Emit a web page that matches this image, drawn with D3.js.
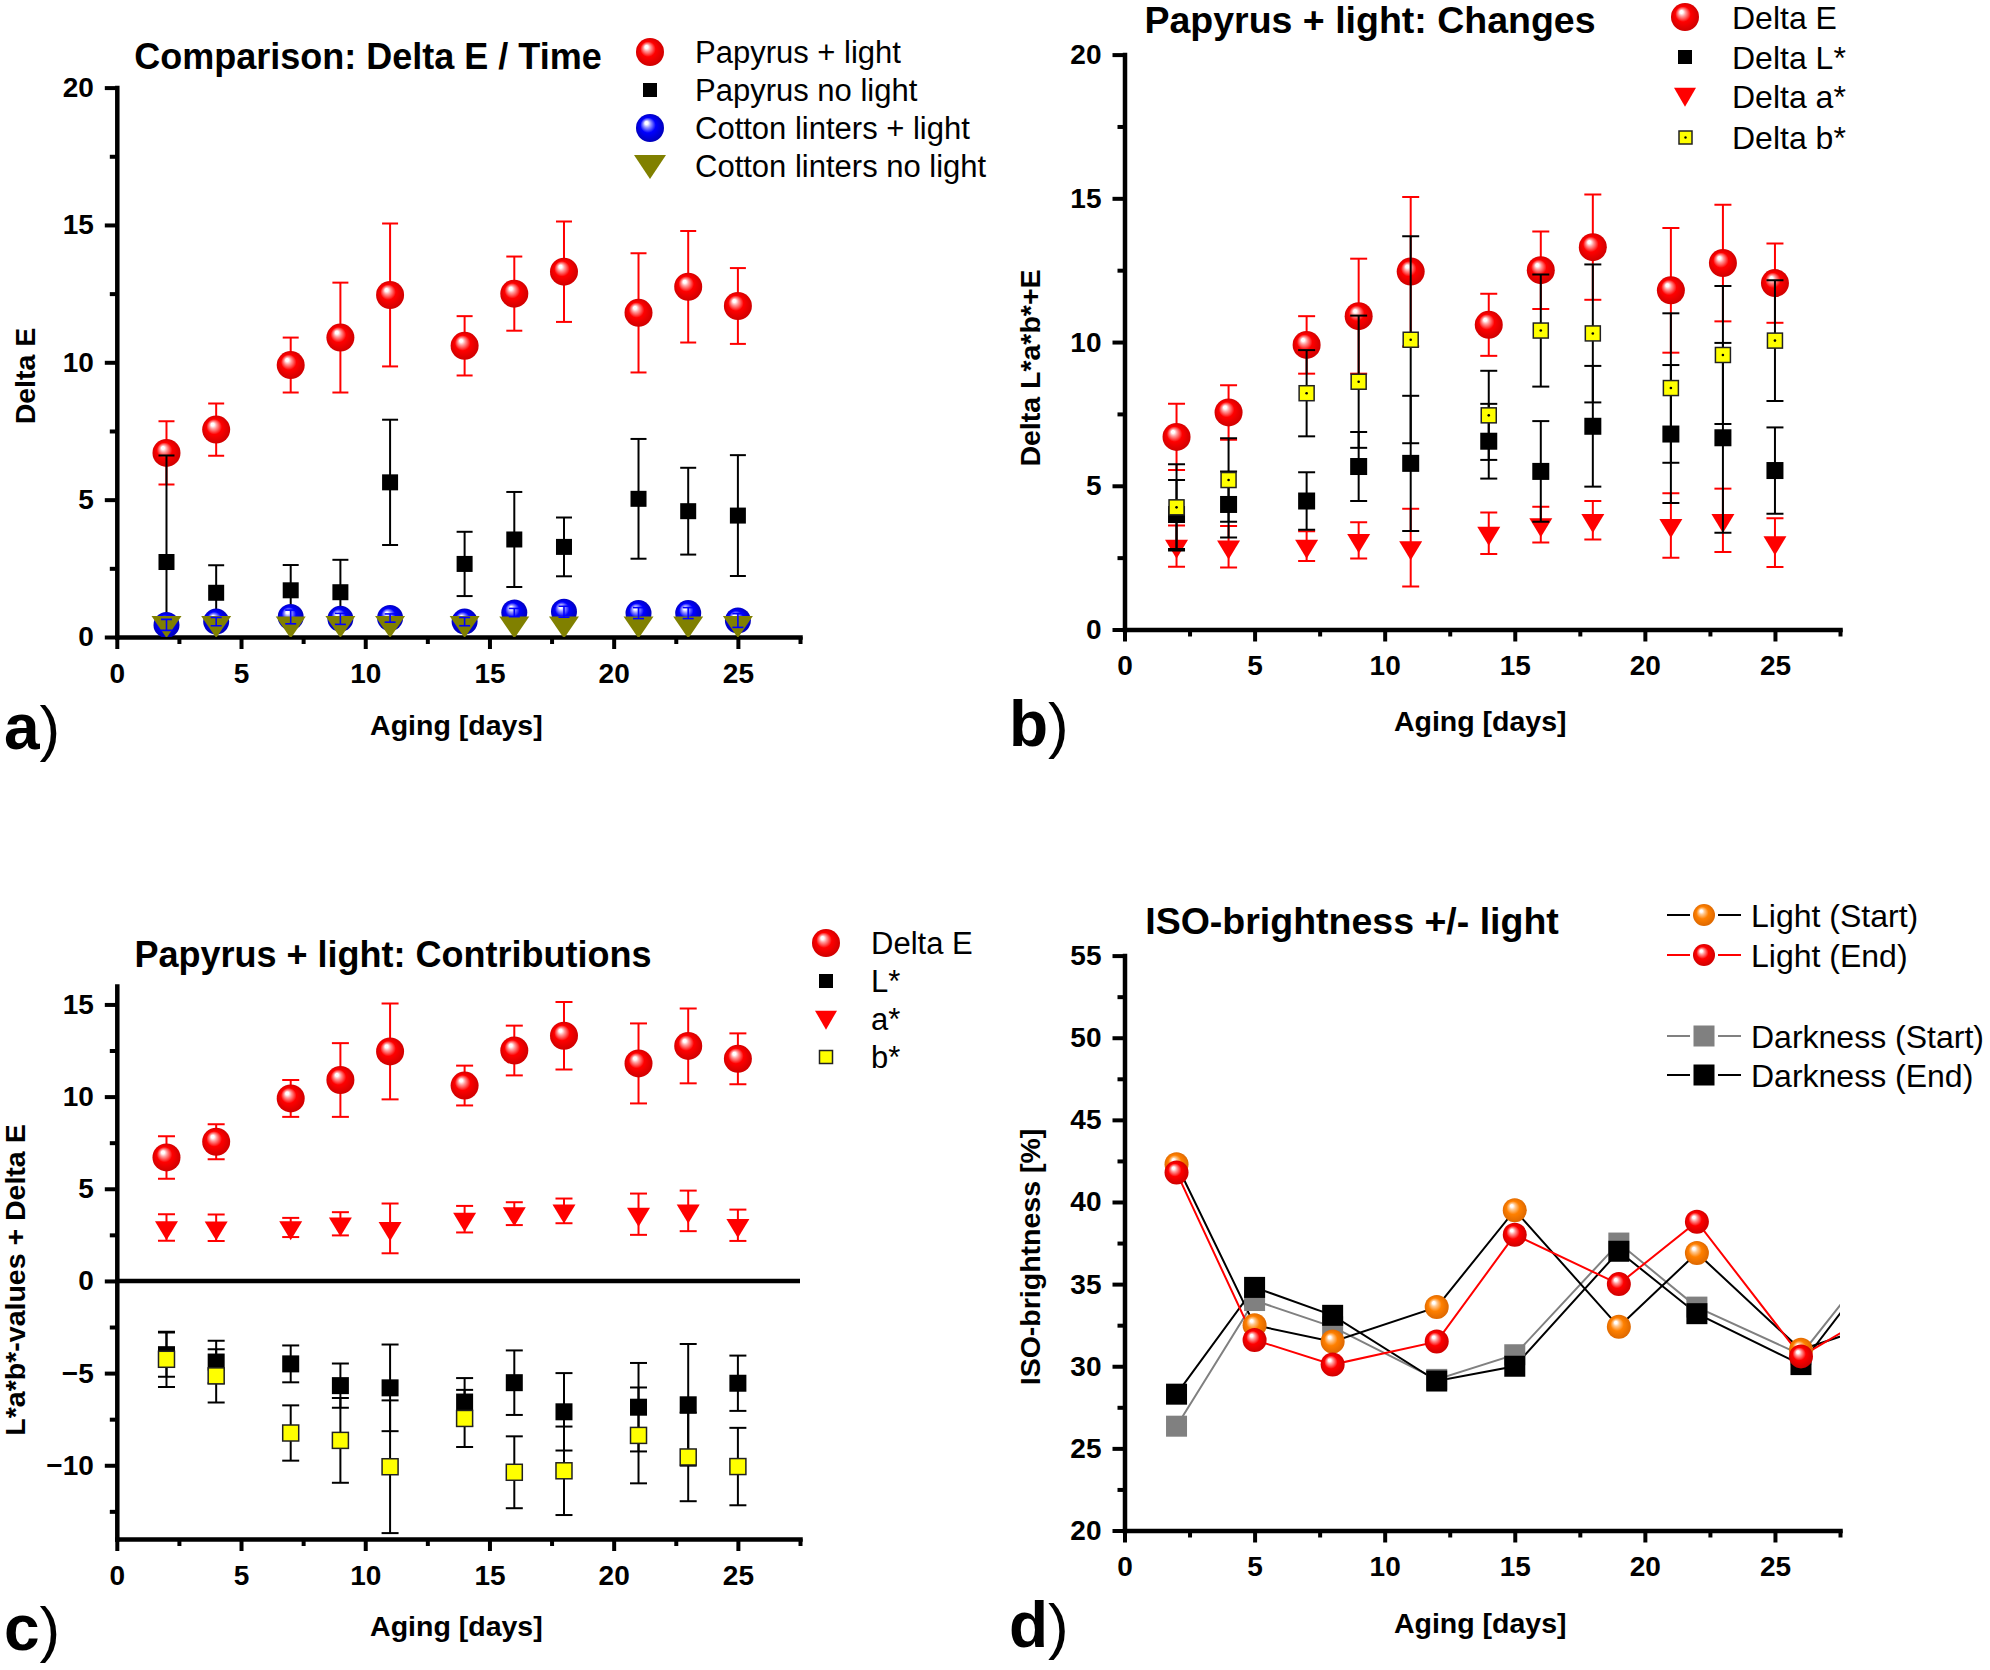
<!DOCTYPE html>
<html><head><meta charset="utf-8">
<script src="https://cdn.jsdelivr.net/npm/d3@7"></script>
<style>
body{margin:0;background:#fff}
svg{display:block}
text{font-family:"Liberation Sans",Arial,Helvetica,sans-serif;fill:#000}
</style>
</head><body>
<svg id="chart" width="1990" height="1670"></svg>
<script>
// ---------------- DATA ----------------
const days = [2, 4, 7, 9, 11, 14, 16, 18, 21, 23, 25];
const xTicks = [0, 5, 10, 15, 20, 25];
const xMinorTicks = [2.5, 7.5, 12.5, 17.5, 22.5, 27.5];

// Panel a
const papyrusLight    = [6.7, 7.55, 9.9, 10.9, 12.45, 10.6, 12.5, 13.3, 11.8, 12.75, 12.05];
const papyrusLightErr = [1.15, 0.95, 1.0, 2.0, 2.6, 1.08, 1.35, 1.83, 2.17, 2.03, 1.38];
const papyrusDark     = [2.73, 1.61, 1.7, 1.63, 5.63, 2.66, 3.55, 3.28, 5.03, 4.58, 4.42];
const papyrusDarkErr  = [3.88, 1.0, 0.92, 1.18, 2.28, 1.17, 1.73, 1.07, 2.18, 1.58, 2.2];
const cottonLight     = [0.44, 0.56, 0.73, 0.66, 0.69, 0.56, 0.89, 0.92, 0.87, 0.87, 0.6];
const cottonLightErr  = [0.2, 0.15, 0.25, 0.2, 0.15, 0.15, 0.15, 0.2, 0.2, 0.2, 0.25];
const cottonDark      = [0.5, 0.5, 0.48, 0.5, 0.5, 0.5, 0.48, 0.48, 0.48, 0.48, 0.5];
const aYTicks = [0, 5, 10, 15, 20];
const aYMinor = [2.5, 7.5, 12.5, 17.5];

// Panel b
const deltaE    = [6.7, 7.55, 9.9, 10.9, 12.45, 10.6, 12.5, 13.3, 11.8, 12.75, 12.05];
const deltaEErr = [1.15, 0.95, 1.0, 2.0, 2.6, 1.08, 1.35, 1.83, 2.17, 2.03, 1.38];
const deltaL    = [4.0, 4.35, 4.47, 5.67, 5.78, 6.55, 5.5, 7.07, 6.8, 6.67, 5.53];
const deltaLErr = [1.2, 1.15, 1.0, 1.2, 2.35, 1.3, 1.75, 2.1, 2.4, 3.3, 1.5];
const deltaA    = [2.9, 2.88, 2.9, 3.1, 2.85, 3.35, 3.65, 3.8, 3.62, 3.8, 3.02];
const deltaAErr = [0.72, 0.72, 0.52, 0.63, 1.35, 0.72, 0.62, 0.67, 1.12, 1.1, 0.85];
const deltaB    = [4.25, 5.2, 8.22, 8.62, 10.08, 7.45, 10.4, 10.3, 8.4, 9.55, 10.05];
const deltaBErr = [1.5, 1.45, 1.5, 2.3, 3.6, 1.55, 1.95, 2.4, 2.6, 2.4, 2.1];

// Panel c
const contribE    = [6.7, 7.55, 9.9, 10.9, 12.45, 10.6, 12.5, 13.3, 11.8, 12.75, 12.05];
const contribEErr = [1.15, 0.95, 1.0, 2.0, 2.6, 1.08, 1.35, 1.83, 2.17, 2.03, 1.38];
const contribL    = [-4.0, -4.4, -4.5, -5.68, -5.8, -6.57, -5.52, -7.1, -6.85, -6.72, -5.55];
const contribLErr = [1.2, 1.15, 1.0, 1.2, 2.35, 1.3, 1.75, 2.1, 2.4, 3.3, 1.5];
const contribA    = [2.9, 2.88, 2.9, 3.1, 2.85, 3.35, 3.65, 3.8, 3.62, 3.8, 3.02];
const contribAErr = [0.72, 0.72, 0.52, 0.63, 1.35, 0.72, 0.62, 0.67, 1.12, 1.1, 0.85];
const contribB    = [-4.25, -5.15, -8.25, -8.65, -10.08, -7.46, -10.38, -10.3, -8.38, -9.55, -10.07];
const contribBErr = [1.5, 1.45, 1.5, 2.3, 3.6, 1.55, 1.95, 2.4, 2.6, 2.4, 2.1];
const cYTicks = [-10, -5, 0, 5, 10, 15];
const cYMinor = [-12.5, -7.5, -2.5, 2.5, 7.5, 12.5];

// Panel d
const isoDays    = [2, 5, 8, 12, 15, 19, 22, 26, 29];
const lightStart = [42.3, 32.5, 31.5, 33.6, 39.5, 32.4, 36.9, 31.0, 32.6];
const lightEnd   = [41.8, 31.6, 30.1, 31.5, 38.0, 35.0, 38.8, 30.6, 33.4];
const darkStart  = [26.35, 34.0, 32.4, 29.2, 30.7, 37.5, 33.6, 30.7, 36.7];
const darkEnd    = [28.3, 34.8, 33.1, 29.1, 30.0, 37.0, 33.2, 30.1, 36.3];
const dYTicks = [20, 25, 30, 35, 40, 45, 50, 55];
const dYMinor = [22.5, 27.5, 32.5, 37.5, 42.5, 47.5, 52.5];

// ---------------- DRAWING ----------------
const svg = d3.select('#chart');
const defs = svg.append('defs');

function sphereGrad(id, light, base, dark) {
  const g = defs.append('radialGradient').attr('id', id)
    .attr('cx', '50%').attr('cy', '50%').attr('r', '55%')
    .attr('fx', '36%').attr('fy', '30%');
  [[0, '#ffffff'], [0.1, '#ffffff'], [0.24, light], [0.5, base], [1, dark]]
    .forEach(s => g.append('stop').attr('offset', s[0]).attr('stop-color', s[1]));
}
sphereGrad('gRed', '#ff9a9a', '#ff0000', '#c80000');
sphereGrad('gBlue', '#9a9aff', '#0000ff', '#0000b0');
sphereGrad('gOrange', '#ffc890', '#ff8000', '#d86400');

let clipId = 0;
function frame(o) {
  const x = d3.scaleLinear().domain([0, 27.5]).range([o.x0, o.x1]);
  const y = d3.scaleLinear().domain(o.yDom).range([o.yBot, o.yTop]);
  const g = svg.append('g');
  const axisStyle = s => {
    s.selectAll('.domain').attr('stroke', '#000').attr('stroke-width', 4.5).attr('stroke-linecap', 'square');
    s.selectAll('.tick line').attr('stroke', '#000').attr('stroke-width', 4);
    s.selectAll('.tick text').attr('font-size', 28).attr('font-weight', 'bold')
      .attr('font-family', '"Liberation Sans",Arial,sans-serif').attr('fill', '#000');
  };
  // minor ticks
  g.append('g').attr('transform', `translate(${o.x0},0)`)
    .call(d3.axisLeft(y).tickValues(o.yMinor).tickSize(7).tickFormat('').tickSizeOuter(0))
    .call(axisStyle).call(s => s.select('.domain').remove());
  g.append('g').attr('transform', `translate(0,${o.yBot})`)
    .call(d3.axisBottom(x).tickValues(xMinorTicks).tickSize(7).tickFormat('').tickSizeOuter(0))
    .call(axisStyle).call(s => s.select('.domain').remove());
  // major
  g.append('g').attr('transform', `translate(${o.x0},0)`)
    .call(d3.axisLeft(y).tickValues(o.yMajor).tickSize(12).tickPadding(11).tickSizeOuter(0))
    .call(axisStyle);
  g.append('g').attr('transform', `translate(0,${o.yBot})`)
    .call(d3.axisBottom(x).tickValues(xTicks).tickSize(12).tickPadding(14).tickSizeOuter(0))
    .call(axisStyle);
  // clip
  const id = 'clip' + (clipId++);
  defs.append('clipPath').attr('id', id).append('rect')
    .attr('x', o.x0).attr('y', o.yTop - 30).attr('width', o.x1 - o.x0).attr('height', o.yBot - o.yTop + 30);
  const plot = svg.append('g').attr('clip-path', `url(#${id})`);
  // title
  svg.append('text').attr('x', o.titleX).attr('y', o.titleY).attr('dy', '0.35em')
    .attr('text-anchor', 'middle').attr('font-size', o.titleSize).attr('font-weight', 'bold').text(o.title);
  // axis titles
  svg.append('text').attr('x', (o.x0 + o.x1) / 2 - 2).attr('y', o.xLabY).attr('dy', '0.35em')
    .attr('text-anchor', 'middle').attr('font-size', 28.5).attr('font-weight', 'bold').text('Aging [days]');
  svg.append('text').attr('transform', `translate(${o.yLabX},${o.yLabY}) rotate(-90)`).attr('dy', '0.35em')
    .attr('text-anchor', 'middle').attr('font-size', 28.5).attr('font-weight', 'bold').text(o.yLabel);
  // panel letter
  const lt = svg.append('text').attr('x', o.letX).attr('y', o.letY).attr('font-size', 64);
  lt.append('tspan').attr('font-weight', 'bold').text(o.letter);
  lt.append('tspan').attr('font-weight', 'normal').attr('font-size', 62).text(')');
  return {x, y, plot};
}

function rows(xs, ys, es) { return xs.map((d, i) => ({x: d, y: ys[i], e: es ? es[i] : 0})); }

function errorBars(g, data, x, y, color, cap, sw) {
  const eg = g.append('g').attr('stroke', color).attr('stroke-width', sw || 2);
  eg.selectAll('.v').data(data).join('line').attr('class', 'v')
    .attr('x1', d => x(d.x)).attr('x2', d => x(d.x))
    .attr('y1', d => y(d.y + d.e)).attr('y2', d => y(d.y - d.e));
  eg.selectAll('.t').data(data).join('line').attr('class', 't')
    .attr('x1', d => x(d.x) - cap / 2).attr('x2', d => x(d.x) + cap / 2)
    .attr('y1', d => y(d.y + d.e)).attr('y2', d => y(d.y + d.e));
  eg.selectAll('.b').data(data).join('line').attr('class', 'b')
    .attr('x1', d => x(d.x) - cap / 2).attr('x2', d => x(d.x) + cap / 2)
    .attr('y1', d => y(d.y - d.e)).attr('y2', d => y(d.y - d.e));
}
function spheres(g, data, x, y, r, grad) {
  g.append('g').selectAll('circle').data(data).join('circle')
    .attr('cx', d => x(d.x)).attr('cy', d => y(d.y)).attr('r', r).attr('fill', `url(#${grad})`);
}
function squares(g, data, x, y, s, fill, stroke, dot) {
  const gg = g.append('g');
  gg.selectAll('rect').data(data).join('rect')
    .attr('x', d => x(d.x) - s / 2).attr('y', d => y(d.y) - s / 2).attr('width', s).attr('height', s)
    .attr('fill', fill).attr('stroke', stroke || 'none').attr('stroke-width', stroke ? 1.5 : 0);
  if (dot) gg.selectAll('circle').data(data).join('circle')
    .attr('cx', d => x(d.x)).attr('cy', d => y(d.y)).attr('r', 1.3).attr('fill', '#000');
}
function triPath(cx, cy, w, h) {
  return `M${cx - w / 2},${cy - h / 3}L${cx + w / 2},${cy - h / 3}L${cx},${cy + 2 * h / 3}Z`;
}
function triangles(g, data, x, y, w, h, fill) {
  g.append('g').selectAll('path').data(data).join('path')
    .attr('d', d => triPath(x(d.x), y(d.y), w, h)).attr('fill', fill);
}
function legendText(x, y, t, size) {
  svg.append('text').attr('x', x).attr('y', y).attr('dy', '0.36em').attr('font-size', size).text(t);
}

// ---------- Panel a ----------
{
  const P = frame({x0: 116.8, x1: 800, yTop: 87.6, yBot: 637, yDom: [0, 20], yMajor: aYTicks, yMinor: aYMinor,
    title: 'Comparison: Delta E / Time', titleX: 368, titleY: 56, titleSize: 36,
    xLabY: 725, yLabel: 'Delta E', yLabX: 25, yLabY: 376, letter: 'a', letX: 4, letY: 749});
  const {x, y, plot} = P;
  errorBars(plot, rows(days, papyrusLight, papyrusLightErr), x, y, '#ff0000', 16, 2);
  spheres(plot, rows(days, papyrusLight), x, y, 14, 'gRed');
  errorBars(plot, rows(days, papyrusDark, papyrusDarkErr), x, y, '#000', 16, 2);
  squares(plot, rows(days, papyrusDark), x, y, 16, '#000');
  spheres(plot, rows(days, cottonLight), x, y, 13, 'gBlue');
  triangles(plot, rows(days, cottonDark), x, y, 30, 22, '#808000');
  errorBars(plot, rows(days, cottonLight, cottonLightErr), x, y, '#0000ff', 11, 1.6);
  // legend
  svg.append('circle').attr('cx', 650).attr('cy', 52).attr('r', 14).attr('fill', 'url(#gRed)');
  svg.append('rect').attr('x', 643).attr('y', 83).attr('width', 14).attr('height', 14).attr('fill', '#000');
  svg.append('circle').attr('cx', 650).attr('cy', 128).attr('r', 14).attr('fill', 'url(#gBlue)');
  svg.append('path').attr('d', triPath(650, 163, 32, 24)).attr('fill', '#808000');
  legendText(695, 52, 'Papyrus + light', 31);
  legendText(695, 90, 'Papyrus no light', 31);
  legendText(695, 128, 'Cotton linters + light', 31);
  legendText(695, 166, 'Cotton linters no light', 31);
}

// ---------- Panel b ----------
{
  const P = frame({x0: 1124.5, x1: 1840, yTop: 54.6, yBot: 629.5, yDom: [0, 20], yMajor: aYTicks, yMinor: aYMinor,
    title: 'Papyrus + light: Changes', titleX: 1370, titleY: 20, titleSize: 37.5,
    xLabY: 721, yLabel: 'Delta L*a*b*+E', yLabX: 1030, yLabY: 368, letter: 'b', letX: 1009, letY: 746});
  const {x, y, plot} = P;
  errorBars(plot, rows(days, deltaE, deltaEErr), x, y, '#ff0000', 17, 2);
  spheres(plot, rows(days, deltaE), x, y, 14, 'gRed');
  errorBars(plot, rows(days, deltaA, deltaAErr), x, y, '#ff0000', 17, 2);
  triangles(plot, rows(days, deltaA), x, y, 23, 19, '#ff0000');
  errorBars(plot, rows(days, deltaL, deltaLErr), x, y, '#000', 17, 2);
  squares(plot, rows(days, deltaL), x, y, 17, '#000');
  errorBars(plot, rows(days, deltaB, deltaBErr), x, y, '#000', 17, 2);
  squares(plot, rows(days, deltaB), x, y, 15, '#ffff00', '#222', true);
  // legend
  svg.append('circle').attr('cx', 1685).attr('cy', 17).attr('r', 14).attr('fill', 'url(#gRed)');
  svg.append('rect').attr('x', 1678).attr('y', 50).attr('width', 14).attr('height', 14).attr('fill', '#000');
  svg.append('path').attr('d', triPath(1685, 94, 22, 19)).attr('fill', '#ff0000');
  svg.append('rect').attr('x', 1679).attr('y', 131).attr('width', 13).attr('height', 13).attr('fill', '#ffff00').attr('stroke', '#222').attr('stroke-width', 1.5);
  svg.append('circle').attr('cx', 1685.5).attr('cy', 137.5).attr('r', 1.2).attr('fill', '#000');
  legendText(1732, 17, 'Delta E', 32);
  legendText(1732, 57, 'Delta L*', 32);
  legendText(1732, 96.5, 'Delta a*', 32);
  legendText(1732, 137, 'Delta b*', 32);
}

// ---------- Panel c ----------
{
  const P = frame({x0: 116.8, x1: 800, yTop: 986, yBot: 1539, yDom: [-14, 16], yMajor: cYTicks, yMinor: cYMinor,
    title: 'Papyrus + light: Contributions', titleX: 393, titleY: 954, titleSize: 36,
    xLabY: 1626, yLabel: 'L*a*b*-values + Delta E', yLabX: 15, yLabY: 1280, letter: 'c', letX: 4, letY: 1650});
  const {x, y, plot} = P;
  // zero line
  svg.append('line').attr('x1', x(0)).attr('x2', x(27.5)).attr('y1', y(0)).attr('y2', y(0))
    .attr('stroke', '#000').attr('stroke-width', 4.5);
  errorBars(plot, rows(days, contribE, contribEErr), x, y, '#ff0000', 17, 2);
  spheres(plot, rows(days, contribE), x, y, 14, 'gRed');
  errorBars(plot, rows(days, contribA, contribAErr), x, y, '#ff0000', 17, 2);
  triangles(plot, rows(days, contribA), x, y, 23, 19, '#ff0000');
  errorBars(plot, rows(days, contribL, contribLErr), x, y, '#000', 17, 2);
  squares(plot, rows(days, contribL), x, y, 17, '#000');
  errorBars(plot, rows(days, contribB, contribBErr), x, y, '#000', 17, 2);
  squares(plot, rows(days, contribB), x, y, 16, '#ffff00', '#222');
  // legend
  svg.append('circle').attr('cx', 826).attr('cy', 943).attr('r', 14).attr('fill', 'url(#gRed)');
  svg.append('rect').attr('x', 819).attr('y', 974).attr('width', 14).attr('height', 14).attr('fill', '#000');
  svg.append('path').attr('d', triPath(826, 1017, 22, 19)).attr('fill', '#ff0000');
  svg.append('rect').attr('x', 819.5).attr('y', 1050.5).attr('width', 13).attr('height', 13).attr('fill', '#ffff00').attr('stroke', '#222').attr('stroke-width', 1.5);
  legendText(871, 943, 'Delta E', 31);
  legendText(871, 981, 'L*', 31);
  legendText(871, 1019, 'a*', 31);
  legendText(871, 1057, 'b*', 31);
}

// ---------- Panel d ----------
{
  const P = frame({x0: 1124.5, x1: 1840, yTop: 955.6, yBot: 1530.5, yDom: [20, 55], yMajor: dYTicks, yMinor: dYMinor,
    title: 'ISO-brightness +/- light', titleX: 1352, titleY: 921, titleSize: 37.5,
    xLabY: 1623, yLabel: 'ISO-brightness [%]', yLabX: 1030, yLabY: 1257, letter: 'd', letX: 1009, letY: 1647});
  const {x, y, plot} = P;
  const line = d3.line().x(d => x(d.x)).y(d => y(d.y));
  const series = [
    {v: darkStart, stroke: '#808080', kind: 'sq', fill: '#808080'},
    {v: darkEnd, stroke: '#000', kind: 'sq', fill: '#000'},
    {v: lightStart, stroke: '#000', kind: 'sp', fill: 'gOrange'},
    {v: lightEnd, stroke: '#ff0000', kind: 'sp', fill: 'gRed'}
  ];
  series.forEach(s => {
    plot.append('path').datum(rows(isoDays, s.v)).attr('d', line)
      .attr('fill', 'none').attr('stroke', s.stroke).attr('stroke-width', 2);
  });
  series.forEach(s => {
    if (s.kind === 'sq') squares(plot, rows(isoDays, s.v), x, y, 21, s.fill);
    else spheres(plot, rows(isoDays, s.v), x, y, 12, s.fill);
  });
  // legend
  const leg = [
    {yy: 915, stroke: '#000', kind: 'sp', fill: 'gOrange', t: 'Light (Start)'},
    {yy: 955, stroke: '#ff0000', kind: 'sp', fill: 'gRed', t: 'Light (End)'},
    {yy: 1036, stroke: '#808080', kind: 'sq', fill: '#808080', t: 'Darkness (Start)'},
    {yy: 1075, stroke: '#000', kind: 'sq', fill: '#000', t: 'Darkness (End)'}
  ];
  leg.forEach(l => {
    svg.append('line').attr('x1', 1667).attr('x2', 1690).attr('y1', l.yy).attr('y2', l.yy).attr('stroke', l.stroke).attr('stroke-width', 2);
    svg.append('line').attr('x1', 1718).attr('x2', 1741).attr('y1', l.yy).attr('y2', l.yy).attr('stroke', l.stroke).attr('stroke-width', 2);
    if (l.kind === 'sp') svg.append('circle').attr('cx', 1704).attr('cy', l.yy).attr('r', 11).attr('fill', `url(#${l.fill})`);
    else svg.append('rect').attr('x', 1693.5).attr('y', l.yy - 10.5).attr('width', 21).attr('height', 21).attr('fill', l.fill);
    legendText(1751, l.yy, l.t, 32);
  });
}
</script>
</body></html>
